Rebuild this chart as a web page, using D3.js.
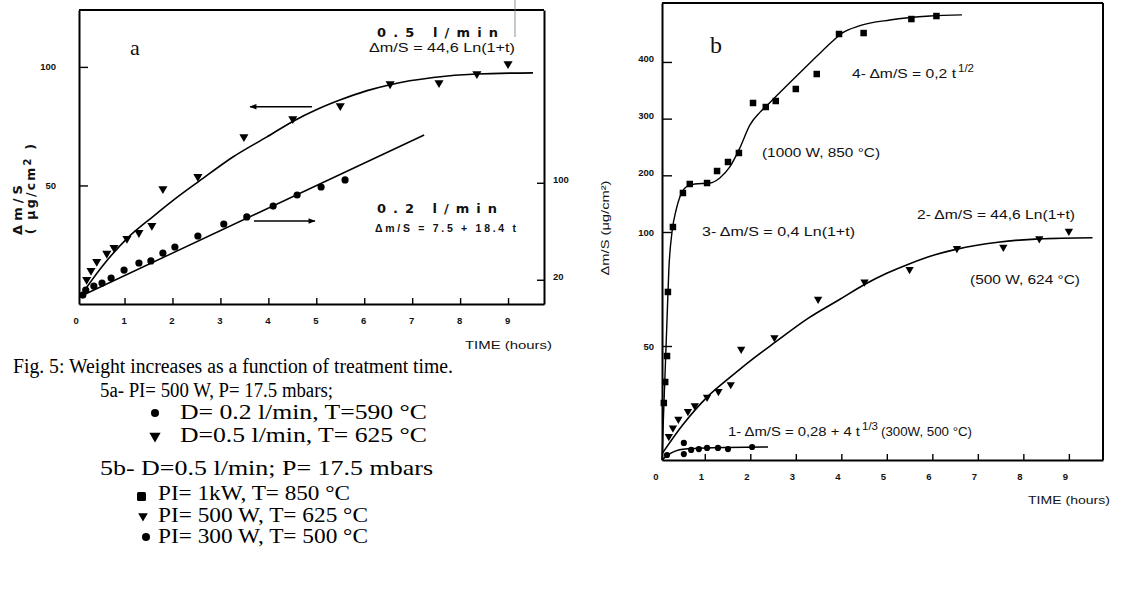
<!DOCTYPE html>
<html><head><meta charset="utf-8">
<script src="https://cdn.jsdelivr.net/npm/d3@7"></script>
<style>body{margin:0;background:#fff}svg{display:block}</style>
</head><body>
<svg id="c" width="1122" height="592"></svg>
<script>
// ---------- DATA ----------
const timeTicks = [0,1,2,3,4,5,6,7,8,9];
const aLeftTicks = [50,100];
const aRightTicks = [20,100];
const bTicks = [50,100,200,300,400];

// 0.5 l/min (fig a, left axis) == 500 W (fig b) triangles
const triT = [0.21,0.30,0.42,0.63,0.78,1.05,1.30,1.57,1.80,2.53,3.49,4.51,5.50,6.54,7.56,8.35,9.00];
const triV = [10.3,14.1,17.9,21.3,23.8,27.6,30.1,33.1,48.6,53.7,70.5,78.1,83.6,92.8,93.3,97.1,101.3];
const triFitT = [0.07,0.50,1.05,1.60,2.00,2.57,3.26,3.97,4.51,5.01,5.49,6.06,6.54,7.44,8.35,9.52];
const triFitV = [3.0,15.0,27.6,37.0,43.5,52.0,62.0,70.5,77.0,82.0,86.0,90.0,92.5,95.5,97.0,97.5];

// 0.2 l/min (fig a, right axis) circles
const cirAT = [0.13,0.19,0.36,0.53,0.72,0.99,1.30,1.55,1.80,2.05,2.53,3.07,3.55,4.10,4.60,5.10,5.60];
const cirAV = [7.4,11.5,14.8,17.3,21.4,28.0,33.8,35.5,42.0,47.0,56.1,66.0,71.8,80.8,89.9,96.5,102.3];
const cirAFitT = [0.05,7.25];
const cirAFitV = [5.8,139.4];

// 1000 W squares (fig b)
const sqT = [0.10,0.13,0.17,0.19,0.30,0.52,0.67,1.05,1.27,1.51,1.75,2.06,2.34,2.56,3.00,3.46,3.95,4.49,5.54,6.09];
const sqV = [25.0,34.2,45.6,73.7,108.8,168.8,184.7,186.4,207.6,223.5,239.4,327.6,320.5,331.1,352.3,378.7,449.3,451.0,475.7,481.0];
const sqFitT = [0.06,0.09,0.13,0.17,0.21,0.28,0.37,0.46,0.59,0.78,1.11,1.33,1.55,1.77,1.99,2.21,2.40,2.70,3.00,3.46,3.80,4.00,4.41,5.07,5.95,6.65];
const sqFitV = [0,17.5,39.5,61.4,83.3,100,138.8,163.5,179.4,184.7,186.4,195.3,214.7,248.2,288.7,311,326,350,374,410,436,450,464,474,481,483];

// 300 W circles (fig b)
const cirBT = [0.17,0.54,0.54,0.70,0.87,1.05,1.29,1.51,2.04];
const cirBV = [2.2,7.5,2.6,4.4,4.8,5.3,5.3,4.8,5.7];
const cirBFitT = [0.06,0.19,0.35,0.56,1.05,2.39];
const cirBFitV = [0,2.2,3.9,4.8,5.3,5.7];

// arrows in fig a: [t, value]
const arrowLeft = [[4.91,83.2],[3.62,83.2]];   // left axis
const arrowRight = [[3.70,68.5],[4.97,68.5]];  // right axis

const zip = (a,b) => a.map((v,i)=>[v,b[i]]);

// ---------- SETUP ----------
const svg = d3.select('#c');
const SANS = "'Liberation Sans', Arial, sans-serif";
const SERIF = "'Liberation Serif', 'Times New Roman', serif";
const DJ = "'DejaVu Sans', sans-serif";

svg.append('defs').append('marker').attr('id','ah').attr('viewBox','0 0 10 10')
  .attr('refX',9).attr('refY',5).attr('markerWidth',9).attr('markerHeight',7)
  .attr('markerUnits','userSpaceOnUse').attr('orient','auto')
  .append('path').attr('d','M0,1 L10,5 L0,9 Z').attr('fill','#000');

function drawTri(g, data, x, y, size){
  g.selectAll(null).data(data).join('path')
    .attr('d', d3.symbol(d3.symbolTriangle, size)())
    .attr('transform', d=>`translate(${x(d[0])},${y(d[1])}) rotate(180)`)
    .attr('fill','#000');
}
function drawCir(g, data, x, y, r){
  g.selectAll(null).data(data).join('circle')
    .attr('cx', d=>x(d[0])).attr('cy', d=>y(d[1])).attr('r', r).attr('fill','#000');
}
function drawSq(g, data, x, y, s){
  g.selectAll(null).data(data).join('rect')
    .attr('x', d=>x(d[0])-s/2).attr('y', d=>y(d[1])-s/2).attr('width', s).attr('height', s).attr('fill','#000');
}
function drawLine(g, data, x, y, w){
  g.append('path').datum(data)
    .attr('d', d3.line().x(d=>x(d[0])).y(d=>y(d[1])).curve(d3.curveMonotoneX))
    .attr('fill','none').attr('stroke','#000').attr('stroke-width', w||1.5);
}
function styleAxis(g, fs){
  g.select('.domain').attr('stroke','#000').attr('stroke-width',2);
  g.selectAll('.tick line').attr('stroke','#000').attr('stroke-width',1.4);
  g.selectAll('.tick text').attr('font-family',SANS).attr('font-weight','bold').attr('font-size',fs).attr('fill','#111');
}
function txt(x, y, s, o){
  o = o || {};
  const t = svg.append('text').attr('x',x).attr('y',y)
    .attr('font-family', o.ff || SANS).attr('font-size', o.fs || 11)
    .attr('font-weight', o.fw || 'normal').attr('fill','#111').text(s);
  if (o.ls) t.attr('letter-spacing', o.ls);
  if (o.tl) t.attr('textLength', o.tl).attr('lengthAdjust', o.la || 'spacingAndGlyphs');
  return t;
}

// ---------- PANEL A ----------
const xA = d3.scaleLinear().domain([0.05, 9.75]).range([79, 544]);
const yA = d3.scaleLinear().domain([0, 124]).range([304, 10]);
const yA2 = d3.scaleLinear().domain([0, 242.5]).range([304, 10]);
const gA = svg.append('g');

gA.append('line').attr('x1',xA.range()[0]).attr('x2',xA.range()[1]).attr('y1',yA.range()[1]).attr('y2',yA.range()[1])
  .attr('stroke','#000').attr('stroke-width',2);
gA.append('line').attr('x1',515).attr('x2',515).attr('y1',0).attr('y2',37).attr('stroke','#777').attr('stroke-width',0.8);

const axA = gA.append('g').attr('transform','translate(0,304)')
  .call(d3.axisBottom(xA).tickValues(timeTicks).tickSize(-6).tickSizeOuter(0).tickPadding(13).tickFormat(d3.format('d')));
styleAxis(axA, 9.5);
axA.selectAll('.tick').filter(d=>d===0).select('line').remove();
axA.selectAll('.tick text').attr('dx',-1);

const ayA = gA.append('g').attr('transform','translate(79,0)')
  .call(d3.axisLeft(yA).tickValues(aLeftTicks).tickSize(-9).tickSizeOuter(0).tickPadding(23));
styleAxis(ayA, 9.5);

const ayA2 = gA.append('g').attr('transform','translate(544,0)')
  .call(d3.axisRight(yA2).tickValues(aRightTicks).tickSize(-7).tickSizeOuter(0).tickPadding(9));
styleAxis(ayA2, 9.5);
ayA2.selectAll('.tick text').attr('dy','0em');

drawLine(gA, zip(triFitT, triFitV), xA, yA, 1.6);
drawLine(gA, zip(cirAFitT, cirAFitV), xA, yA2, 1.5);
drawTri(gA, zip(triT, triV), xA, yA, 36);
drawCir(gA, zip(cirAT, cirAV), xA, yA2, 3.6);

gA.append('line').attr('x1',xA(arrowLeft[0][0])).attr('y1',yA(arrowLeft[0][1]))
  .attr('x2',xA(arrowLeft[1][0])).attr('y2',yA(arrowLeft[1][1]))
  .attr('stroke','#000').attr('stroke-width',1.6).attr('marker-end','url(#ah)');
gA.append('line').attr('x1',xA(arrowRight[0][0])).attr('y1',yA2(arrowRight[0][1]))
  .attr('x2',xA(arrowRight[1][0])).attr('y2',yA2(arrowRight[1][1]))
  .attr('stroke','#000').attr('stroke-width',1.6).attr('marker-end','url(#ah)');

txt(130, 55, 'a', {ff:SERIF, fs:22});
txt(377, 37, '0.5 l/min', {ff:DJ, fs:13, fw:'bold', tl:121, la:'spacing'});
txt(369, 52, 'Δm/S = 44,6 Ln(1+t)', {fs:12, tl:146});
txt(377, 213, '0.2 l/min', {ff:DJ, fs:13, fw:'bold', tl:120, la:'spacing'});
txt(375, 232, 'Δm/S = 7.5 + 18.4 t', {fs:10.5, fw:'bold', tl:141, la:'spacing'});
txt(465, 349, 'TIME (hours)', {fs:11, tl:87});

// y label a
svg.append('text').attr('transform','translate(22,210) rotate(-90)').attr('text-anchor','middle')
  .attr('font-family',DJ).attr('font-weight','bold').attr('font-size',13).attr('fill','#111')
  .attr('textLength',50).attr('lengthAdjust','spacing').text('Δm/S');
const t2 = svg.append('text').attr('transform','translate(35,188) rotate(-90)').attr('text-anchor','middle')
  .attr('font-family',DJ).attr('font-weight','bold').attr('font-size',12.5).attr('letter-spacing',2.2).attr('fill','#111');
t2.append('tspan').text('( μg/cm');
t2.append('tspan').attr('dy',-4).attr('font-size',10).text('2');
t2.append('tspan').attr('dy',4).text(' )');

// ---------- PANEL B ----------
const xB = d3.scaleLinear().domain([0.06, 9.75]).range([662, 1103]);
const yB = d3.scaleLinear().domain([0, 100, 504]).range([460, 232, 3]);
const gB = svg.append('g');

gB.append('line').attr('x1',662).attr('x2',1103).attr('y1',yB.range()[2]).attr('y2',yB.range()[2])
  .attr('stroke','#000').attr('stroke-width',2);
gB.append('line').attr('x1',1103).attr('x2',1103).attr('y1',yB.range()[2]).attr('y2',yB.range()[0])
  .attr('stroke','#000').attr('stroke-width',2);

const axB = gB.append('g').attr('transform','translate(0,460)')
  .call(d3.axisBottom(xB).tickValues(timeTicks).tickSize(-6).tickSizeOuter(0).tickPadding(13).tickFormat(d3.format('d')));
styleAxis(axB, 9.5);
axB.selectAll('.tick').filter(d=>d===0).select('line').remove();
axB.selectAll('.tick text').attr('dx',-4);

const ayB = gB.append('g').attr('transform','translate(662,0)')
  .call(d3.axisLeft(yB).tickValues(bTicks).tickSize(-10).tickSizeOuter(0).tickPadding(8));
styleAxis(ayB, 9.5);
ayB.selectAll('.tick text').filter(d=>d>100).attr('dy','0em');

drawLine(gB, zip(sqFitT, sqFitV), xB, yB, 1.4);
drawLine(gB, zip(triFitT, triFitV), xB, yB, 1.6);
drawLine(gB, zip(cirBFitT, cirBFitV), xB, yB, 1.5);
drawSq(gB, zip(sqT, sqV), xB, yB, 6.5);
drawTri(gB, zip(triT, triV), xB, yB, 30);
drawCir(gB, zip(cirBT, cirBV), xB, yB, 3.1);

txt(710, 53, 'b', {ff:SERIF, fs:24});
txt(852, 78, '4- Δm/S = 0,2 t', {fs:12.5, tl:104});
txt(958, 72, '1/2', {fs:10, tl:16});
txt(762, 157, '(1000 W, 850 °C)', {fs:12.5, tl:118});
txt(702, 236, '3- Δm/S = 0,4 Ln(1+t)', {fs:12.5, tl:153});
txt(917, 219, '2- Δm/S = 44,6 Ln(1+t)', {fs:12.5, tl:158});
txt(970, 284, '(500 W, 624 °C)', {fs:12.5, tl:110});
txt(728, 436, '1- Δm/S = 0,28 + 4 t', {fs:12.5, tl:132});
txt(862, 430, '1/3', {fs:10, tl:16});
txt(881, 436, '(300W, 500 °C)', {fs:12.5, tl:91});
txt(1028, 504, 'TIME (hours)', {fs:11, tl:82});

svg.append('text').attr('transform','translate(609,228) rotate(-90)').attr('text-anchor','middle')
  .attr('font-family',SANS).attr('font-size',11).attr('fill','#111')
  .attr('textLength',95).attr('lengthAdjust','spacingAndGlyphs').text('Δm/S (μg/cm²)');

// ---------- CAPTION ----------
const cap = [
  {x:13, y:373, s:'Fig. 5: Weight increases as a function of treatment time.', tl:440, fs:20},
  {x:100, y:397, s:'5a- PI= 500 W, P= 17.5 mbars;', tl:233, fs:20},
  {x:180, y:419, s:'D= 0.2 l/min, T=590 °C', tl:247, fs:21},
  {x:180, y:442, s:'D=0.5 l/min, T= 625 °C', tl:247, fs:21},
  {x:100, y:475, s:'5b- D=0.5 l/min;  P= 17.5 mbars', tl:333, fs:21},
  {x:158, y:500, s:'PI= 1kW, T= 850 °C', tl:192, fs:20.5},
  {x:158, y:522, s:'PI= 500 W, T= 625 °C', tl:210, fs:20.5},
  {x:158, y:543, s:'PI= 300 W, T= 500 °C', tl:210, fs:20.5}
];
cap.forEach(c => txt(c.x, c.y, c.s, {ff:SERIF, fs:c.fs, tl:c.tl}).attr('fill','#000'));
svg.append('circle').attr('cx',155).attr('cy',413).attr('r',4).attr('fill','#000');
svg.append('path').attr('d',d3.symbol(d3.symbolTriangle,55)()).attr('transform','translate(155,436) rotate(180)').attr('fill','#000');
svg.append('rect').attr('x',137).attr('y',492).attr('width',9).attr('height',9).attr('rx',1.5).attr('fill','#000');
svg.append('path').attr('d',d3.symbol(d3.symbolTriangle,40)()).attr('transform','translate(143,516) rotate(180)').attr('fill','#000');
svg.append('circle').attr('cx',146).attr('cy',537).attr('r',4).attr('fill','#000');
</script>
</body></html>
